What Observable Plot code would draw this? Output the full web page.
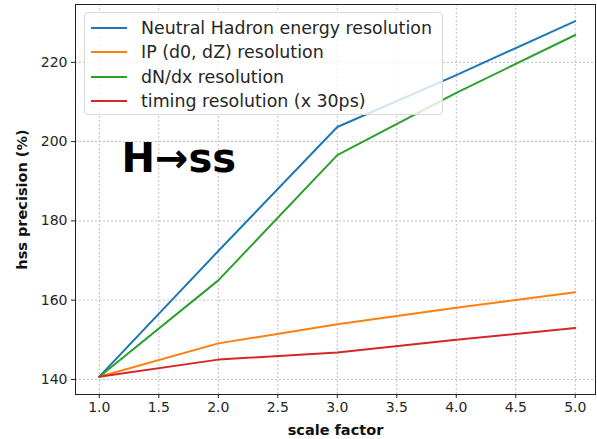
<!DOCTYPE html>
<html><head><meta charset="utf-8">
<script src="https://cdn.jsdelivr.net/npm/d3@7"></script>
<script src="https://cdn.jsdelivr.net/npm/@observablehq/plot@0.6"></script>
<style>
body{margin:0;background:#fff;}
#wrap{position:relative;width:597px;height:439px;font-family:"DejaVu Sans",sans-serif;}
#legend{position:absolute;left:84px;top:12px;width:357px;height:101px;border:1px solid #d9d9d9;border-radius:4px;background:rgba(255,255,255,0.8);box-sizing:content-box;}
.row{position:absolute;left:0;height:20px;display:flex;align-items:center;font-size:17.4px;color:#262626;white-space:nowrap;}
.sw{display:inline-block;width:36px;height:2px;margin-left:6px;margin-right:14px;}
</style>
</head><body><div id="wrap"></div>
<script>
const scaleFactor = [1, 2, 3, 4, 5];
const neutralHadron = [140.7, 172.4, 203.7, 216.8, 230.4];
const ipRes = [140.7, 149.1, 153.9, 158.1, 162.0];
const dNdx = [140.7, 165.0, 196.6, 212.3, 226.9];
const timing = [140.7, 145.0, 146.8, 150.0, 153.0];
const seriesNames = ["Neutral Hadron energy resolution", "IP (d0, dZ) resolution", "dN/dx resolution", "timing resolution (x 30ps)"];
const seriesValues = [neutralHadron, ipRes, dNdx, timing];
const colors = ["#1f77b4", "#ff7f0e", "#2ca02c", "#d62728"];
const xTicks = [1.0, 1.5, 2.0, 2.5, 3.0, 3.5, 4.0, 4.5, 5.0];
const yTicks = [140, 160, 180, 200, 220];
const xLabel = "scale factor";
const yLabel = "hss precision (%)";
const annotation = "H\u2192ss";

const data = seriesNames.flatMap((name, i) => scaleFactor.map((x, j) => ({name, x, y: seriesValues[i][j]})));

const chart = Plot.plot({
  width: 597, height: 439,
  marginLeft: 75, marginRight: 2, marginTop: 4, marginBottom: 45,
  x: {domain: [0.8, 5.17]},
  y: {domain: [136.2, 234.6]},
  color: {domain: seriesNames, range: colors},
  style: {fontFamily: "DejaVu Sans", fontSize: "14px", color: "#262626", background: "white"},
  marks: [
    Plot.gridX(xTicks, {stroke: "#b0b0b0", strokeOpacity: 0.8, strokeDasharray: "2,2"}),
    Plot.gridY(yTicks, {stroke: "#b0b0b0", strokeOpacity: 0.8, strokeDasharray: "2,2"}),
    Plot.line(data, {x: "x", y: "y", stroke: "name", strokeWidth: 2}),
    Plot.frame({stroke: "#222", strokeWidth: 1}),
    Plot.axisX(xTicks, {tickFormat: d => d.toFixed(1), label: null, tickSize: 4, tickPadding: 4, fontSize: 14, stroke: "#222"}),
    Plot.axisY(yTicks, {label: null, tickSize: 4, tickPadding: 4, fontSize: 14, stroke: "#222"}),
    Plot.text([annotation], {frameAnchor: "top-left", textAnchor: "start", lineAnchor: "middle", dx: 46, dy: 155, fontSize: 40, fontWeight: "bold", fill: "#000"}),
    Plot.text([xLabel], {frameAnchor: "bottom", textAnchor: "middle", lineAnchor: "middle", dy: 36, fontSize: 14.5, fontWeight: "bold", fill: "#111"}),
    Plot.text([yLabel], {frameAnchor: "left", textAnchor: "middle", lineAnchor: "middle", rotate: -90, dx: -53, fontSize: 14.5, fontWeight: "bold", fill: "#111"})
  ]
});
const wrap = document.getElementById("wrap");
wrap.appendChild(chart);

const legend = document.createElement("div");
legend.id = "legend";
seriesNames.forEach((name, i) => {
  const row = document.createElement("div");
  row.className = "row";
  row.style.top = (4.5 + i * 24.5) + "px";
  const sw = document.createElement("span");
  sw.className = "sw";
  sw.style.background = colors[i];
  row.appendChild(sw);
  row.appendChild(document.createTextNode(name));
  legend.appendChild(row);
});
wrap.appendChild(legend);
</script>
</body></html>
